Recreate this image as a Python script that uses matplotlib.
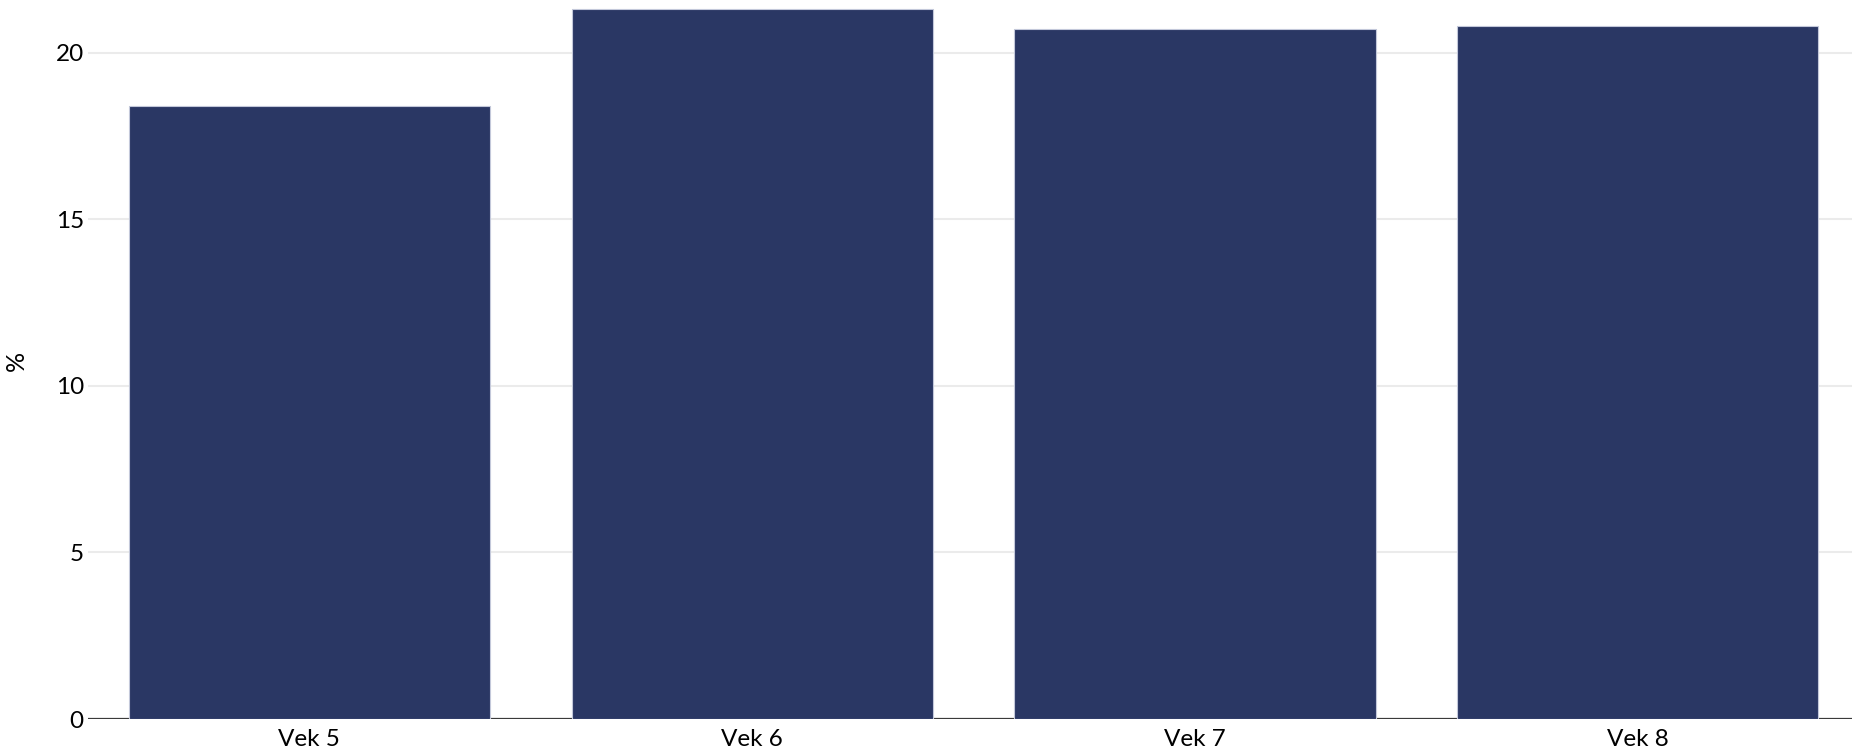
import matplotlib
matplotlib.use("Agg")
import matplotlib.pyplot as plt

categories = ["Vek 5", "Vek 6", "Vek 7", "Vek 8"]
values = [18.4, 21.3, 20.7, 20.8]
yticks = [0, 5, 10, 15, 20]

W, H = 1852, 751
fig = plt.figure(figsize=(W / 100, H / 100), dpi=100)
plt.rcParams['font.family'] = ['Lato', 'DejaVu Sans']

left_px, bottom_px, top_px = 88, 719, 2.8
ax = fig.add_axes([left_px / W, (H - bottom_px) / H, (W - left_px) / W, (bottom_px - top_px) / H])

x = list(range(len(categories)))
ax.bar(x, values, width=0.816, color='#2a3764', edgecolor='#c3c8da', linewidth=0.8, zorder=3)

ax.set_xlim(-0.5, 3.484)
ax.set_ylim(0, 21.5)
ax.set_yticks(yticks)
ax.set_yticklabels([str(t) for t in yticks])
ax.set_xticks(x)
ax.set_xticklabels(categories)

ax.grid(axis='y', color='#ebebeb', linewidth=1.5, zorder=0)
ax.grid(axis='x', visible=False)
ax.axhline(0, color='#3a3a3a', linewidth=1.6, zorder=2)

for s in ax.spines.values():
    s.set_visible(False)
ax.tick_params(axis='both', length=0, labelsize=17.5, colors='#000000')
ax.tick_params(axis='y', pad=3)
ax.tick_params(axis='x', pad=7)
ax.set_facecolor('white')

ax.set_ylabel('%', fontsize=18, labelpad=20)

fig.savefig('out.png', dpi=100, facecolor='white')
